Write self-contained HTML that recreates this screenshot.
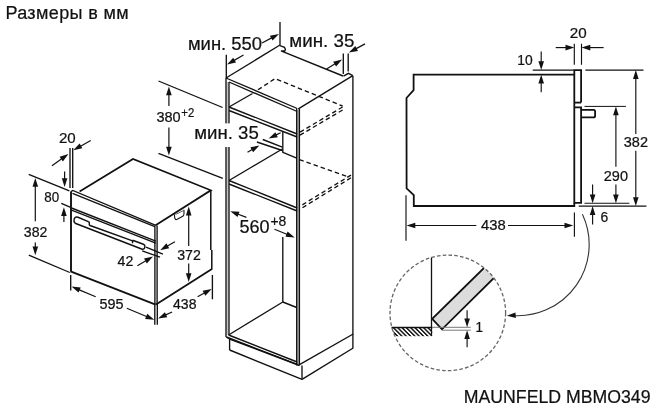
<!DOCTYPE html>
<html><head><meta charset="utf-8"><style>
html,body{margin:0;padding:0;background:#fff;}
svg{display:block;will-change:transform;}
text{stroke:#111;stroke-width:0.22px;font-family:"Liberation Sans",sans-serif;}
</style></head><body>
<svg width="667" height="413" viewBox="0 0 667 413">
<text x="5.4" y="18.9" font-size="18" letter-spacing="0.38" fill="#111">Размеры в мм</text>
<line x1="226" y1="78" x2="280" y2="45" stroke="#111" stroke-width="1.35" />
<polyline points="280,45.7 284.5,47.4 285.4,49.3 284.8,51 281,50.8 343,76" fill="none" stroke="#111" stroke-width="1.35" stroke-linejoin="miter" />
<polyline points="343.5,76.2 348.4,73.3 352.8,75.7" fill="none" stroke="#111" stroke-width="1.35" stroke-linejoin="miter" />
<line x1="352.9" y1="75.7" x2="352.9" y2="348" stroke="#111" stroke-width="1.35" />
<line x1="298.3" y1="108.8" x2="352.8" y2="75.7" stroke="#111" stroke-width="1.35" />
<line x1="226" y1="78" x2="297.2" y2="108.5" stroke="#111" stroke-width="1.35" />
<line x1="229" y1="82" x2="297.2" y2="111.5" stroke="#111" stroke-width="1.35" />
<line x1="227.5" y1="82" x2="227.5" y2="335" stroke="#c4c4c4" stroke-width="1.8" />
<line x1="298" y1="110" x2="298" y2="364" stroke="#a8a8a8" stroke-width="1.6" />
<line x1="226" y1="78" x2="226" y2="337" stroke="#111" stroke-width="1.35" />
<line x1="229" y1="82" x2="229" y2="335" stroke="#111" stroke-width="1.35" />
<line x1="296.7" y1="108.5" x2="296.7" y2="365.4" stroke="#111" stroke-width="1.35" />
<line x1="299.4" y1="108.5" x2="299.4" y2="365.4" stroke="#111" stroke-width="1.35" />
<line x1="229" y1="107" x2="297.2" y2="134" stroke="#111" stroke-width="1.35" />
<line x1="229" y1="110.5" x2="297.2" y2="137" stroke="#111" stroke-width="1.35" />
<line x1="229" y1="107" x2="252.5" y2="93.5" stroke="#111" stroke-width="1.35" />
<line x1="282.8" y1="131.5" x2="282.8" y2="152.2" stroke="#111" stroke-width="1.35" />
<line x1="282.3" y1="152.2" x2="296.7" y2="158.1" stroke="#111" stroke-width="1.35" />
<line x1="229" y1="180.5" x2="282.3" y2="149" stroke="#111" stroke-width="1.35" />
<line x1="229" y1="180.5" x2="297.2" y2="208" stroke="#111" stroke-width="1.35" />
<line x1="229" y1="184" x2="297.2" y2="211" stroke="#111" stroke-width="1.35" />
<line x1="282.8" y1="237" x2="282.8" y2="302" stroke="#111" stroke-width="1.35" />
<line x1="226.4" y1="337" x2="297.2" y2="364.4" stroke="#111" stroke-width="1.35" />
<line x1="228.6" y1="335" x2="297.2" y2="362" stroke="#111" stroke-width="1.35" />
<line x1="228.6" y1="335" x2="282.8" y2="302" stroke="#111" stroke-width="1.35" />
<line x1="282.8" y1="302" x2="296.7" y2="307.5" stroke="#111" stroke-width="1.35" />
<line x1="226.4" y1="337" x2="229.6" y2="339" stroke="#111" stroke-width="1.35" />
<line x1="229.6" y1="339" x2="229.6" y2="350" stroke="#111" stroke-width="1.35" />
<line x1="229.6" y1="339" x2="299.5" y2="365.5" stroke="#111" stroke-width="1.35" />
<line x1="229.6" y1="350" x2="302" y2="379.4" stroke="#111" stroke-width="1.35" />
<line x1="302" y1="365.4" x2="302" y2="379.4" stroke="#111" stroke-width="1.35" />
<line x1="299.5" y1="364.6" x2="353.2" y2="334" stroke="#111" stroke-width="1.35" />
<line x1="302" y1="379.4" x2="353.2" y2="348" stroke="#111" stroke-width="1.35" />
<polyline points="258,89.8 275,78.6 342.6,106" fill="none" stroke="#111" stroke-width="1.35" stroke-linejoin="miter" stroke-dasharray="4.5,3"/>
<line x1="342.6" y1="107" x2="299.4" y2="132.5" stroke="#111" stroke-width="1.35" stroke-dasharray="4.5,3"/>
<line x1="342.6" y1="110" x2="299.4" y2="135.5" stroke="#111" stroke-width="1.35" stroke-dasharray="4.5,3"/>
<line x1="299.4" y1="159.7" x2="347.8" y2="176.6" stroke="#111" stroke-width="1.35" stroke-dasharray="4.5,3"/>
<line x1="351" y1="175.1" x2="299.4" y2="206.6" stroke="#111" stroke-width="1.35" stroke-dasharray="4.5,3"/>
<line x1="351" y1="177.8" x2="299.4" y2="209.6" stroke="#111" stroke-width="1.35" stroke-dasharray="4.5,3"/>
<text transform="translate(187.91,49.50) scale(1,1.0)" font-size="18.47" fill="#111">мин. 550</text>
<line x1="226.3" y1="54.7" x2="226.3" y2="78" stroke="#111" stroke-width="1.35" />
<line x1="280" y1="22" x2="280" y2="45" stroke="#111" stroke-width="1.35" />
<line x1="243.5" y1="55" x2="233.76" y2="60.61" stroke="#111" stroke-width="1.2"/>
<polygon points="227,64.5 233.23,57.68 236.02,62.54" fill="#111"/>
<line x1="262" y1="43" x2="272.11" y2="37.65" stroke="#111" stroke-width="1.2"/>
<polygon points="279,34 272.53,40.59 269.91,35.64" fill="#111"/>
<text transform="translate(289.29,46.60) scale(1,1.0)" font-size="18.78" fill="#111">мин. 35</text>
<line x1="343.3" y1="53.6" x2="343.3" y2="74" stroke="#111" stroke-width="1.35" />
<line x1="348.2" y1="53.6" x2="348.2" y2="71.5" stroke="#111" stroke-width="1.35" />
<line x1="326.6" y1="69" x2="335.47" y2="63.51" stroke="#111" stroke-width="1.2"/>
<polygon points="342.1,59.4 336.09,66.41 333.14,61.65" fill="#111"/>
<line x1="365" y1="43.9" x2="355.76" y2="48.89" stroke="#111" stroke-width="1.2"/>
<polygon points="348.9,52.6 355.31,45.95 357.97,50.88" fill="#111"/>
<line x1="158.5" y1="81" x2="222.6" y2="107.5" stroke="#111" stroke-width="1.35" />
<line x1="158.5" y1="153.3" x2="222.8" y2="178.3" stroke="#111" stroke-width="1.35" />
<line x1="168.9" y1="105.9" x2="168.90" y2="94.30" stroke="#111" stroke-width="1.2"/>
<polygon points="168.9,86.5 171.70,95.30 166.10,95.30" fill="#111"/>
<line x1="168.9" y1="127.5" x2="168.90" y2="147.70" stroke="#111" stroke-width="1.2"/>
<polygon points="168.9,155.5 166.10,146.70 171.70,146.70" fill="#111"/>
<text transform="translate(156.42,121.60) scale(1,1.0226345083487935)" font-size="14.53" fill="#111">380</text>
<text transform="translate(181.33,116.60) scale(1,1.045036319612592)" font-size="11.35" fill="#111">+2</text>
<rect x="193" y="123.4" width="66" height="23.6" fill="#fff"/>
<text transform="translate(194.30,139.40) scale(1,1.0)" font-size="18.63" fill="#111">мин. 35</text>
<line x1="262.8" y1="139.5" x2="282.3" y2="147.1" stroke="#111" stroke-width="1.35" />
<line x1="256.9" y1="142" x2="282.3" y2="150.5" stroke="#111" stroke-width="1.35" />
<line x1="280.6" y1="132.7" x2="275.69" y2="135.14" stroke="#111" stroke-width="1.2"/>
<polygon points="268.7,138.6 275.34,132.18 277.83,137.20" fill="#111"/>
<line x1="247.5" y1="152.2" x2="252.63" y2="149.27" stroke="#111" stroke-width="1.2"/>
<polygon points="259.4,145.4 253.15,152.20 250.37,147.33" fill="#111"/>
<text transform="translate(239.48,233.10) scale(1,1.0)" font-size="18.05" fill="#111">560</text>
<text transform="translate(270.40,226.40) scale(1,1.0479452054794565)" font-size="13.90" fill="#111">+8</text>
<line x1="246.4" y1="217.4" x2="237.58" y2="214.00" stroke="#111" stroke-width="1.2"/>
<polygon points="230.3,211.2 239.52,211.75 237.51,216.98" fill="#111"/>
<line x1="274.5" y1="229.2" x2="287.47" y2="234.47" stroke="#111" stroke-width="1.2"/>
<polygon points="294.7,237.4 285.49,236.68 287.60,231.50" fill="#111"/>
<polyline points="79.6,191.4 133,158.9 210.8,190.3 155.6,225.3" fill="none" stroke="#111" stroke-width="1.75" stroke-linejoin="miter" />
<polyline points="71,191.6 72.8,190.4 155.8,225.4" fill="none" stroke="#111" stroke-width="1.35" stroke-linejoin="miter" />
<line x1="71" y1="191.4" x2="71" y2="271.6" stroke="#111" stroke-width="1.9" />
<line x1="70.5" y1="271.4" x2="155.6" y2="304.6" stroke="#111" stroke-width="1.8" />
<line x1="154.9" y1="225.6" x2="154.9" y2="304" stroke="#111" stroke-width="1.35" />
<line x1="157.1" y1="225.4" x2="157.1" y2="303.9" stroke="#111" stroke-width="1.35" />
<line x1="72.5" y1="193.4" x2="154.8" y2="226.6" stroke="#111" stroke-width="1.35" />
<line x1="71.5" y1="208" x2="155.8" y2="241.2" stroke="#111" stroke-width="1.35" />
<line x1="71.5" y1="210.2" x2="155.8" y2="243.2" stroke="#111" stroke-width="1.35" />
<path d="M75.1,223.3 L141.6,249 Q144.4,249.8 144.9,246.8 Q145.2,244.9 143.4,244.2 L132.6,240.2 M89.3,225.3 L132.6,240.9 M132.6,240.2 L132.5,243.2 M89.3,225.3 L89.3,222.6 Q89.2,221.9 88.3,221.6 L78,217.3 Q75.4,216.5 74.2,218.9 Q73.4,221.6 75.1,223.3" fill="none" stroke="#111" stroke-width="1.45"/>
<line x1="210.8" y1="190.3" x2="210.8" y2="250" stroke="#111" stroke-width="1.5" />
<line x1="211.8" y1="250" x2="211.8" y2="269.5" stroke="#111" stroke-width="1.5" />
<line x1="156" y1="304.4" x2="211.9" y2="269" stroke="#111" stroke-width="1.8" />
<path d="M174.3,214.2 L174.8,218.2 Q175.2,220.2 177.2,219.3 L182.3,216.6 Q184.1,215.6 184,213.6 L183.9,209.8" fill="none" stroke="#111" stroke-width="1.1"/>
<line x1="175.5" y1="214.5" x2="183.5" y2="210.5" stroke="#555" stroke-width="0.9" />
<text transform="translate(58.95,142.80) scale(1,1.0124304267161433)" font-size="15.10" fill="#111">20</text>
<line x1="70" y1="148" x2="70" y2="188" stroke="#111" stroke-width="1.35" />
<line x1="72.7" y1="148" x2="72.7" y2="188" stroke="#111" stroke-width="1.35" />
<line x1="52" y1="165.7" x2="62.05" y2="158.53" stroke="#111" stroke-width="1.2"/>
<polygon points="68.4,154 62.86,161.39 59.61,156.83" fill="#111"/>
<line x1="90.7" y1="140.5" x2="80.11" y2="146.40" stroke="#111" stroke-width="1.2"/>
<polygon points="73.3,150.2 79.62,143.47 82.35,148.36" fill="#111"/>
<line x1="28.7" y1="174.4" x2="69.4" y2="190.9" stroke="#111" stroke-width="1.35" />
<line x1="61.3" y1="203.3" x2="70.6" y2="207.3" stroke="#111" stroke-width="1.35" />
<line x1="64.6" y1="171.5" x2="64.60" y2="179.20" stroke="#111" stroke-width="1.2"/>
<polygon points="64.6,187 61.80,178.20 67.40,178.20" fill="#111"/>
<line x1="63.9" y1="222" x2="63.90" y2="215.10" stroke="#111" stroke-width="1.2"/>
<polygon points="63.9,207.3 66.70,216.10 61.10,216.10" fill="#111"/>
<text transform="translate(44.26,202.00) scale(1,1.0342650103519655)" font-size="13.40" fill="#111">80</text>
<line x1="35.3" y1="221.3" x2="35.30" y2="185.80" stroke="#111" stroke-width="1.2"/>
<polygon points="35.3,178 38.10,186.80 32.50,186.80" fill="#111"/>
<line x1="35.3" y1="242.4" x2="35.30" y2="247.40" stroke="#111" stroke-width="1.2"/>
<polygon points="35.3,255.2 32.50,246.40 38.10,246.40" fill="#111"/>
<text transform="translate(23.84,236.90) scale(1,0.9818065342729037)" font-size="14.11" fill="#111">382</text>
<line x1="28.8" y1="255.2" x2="69.8" y2="272.5" stroke="#111" stroke-width="1.35" />
<text transform="translate(117.62,265.70) scale(1,0.9803692905733721)" font-size="14.13" fill="#111">42</text>
<line x1="146" y1="247.2" x2="162.9" y2="254.2" stroke="#111" stroke-width="1.35" />
<line x1="142.2" y1="250.8" x2="160" y2="257.2" stroke="#111" stroke-width="1.35" />
<line x1="174.9" y1="241.7" x2="166.95" y2="246.30" stroke="#111" stroke-width="1.2"/>
<polygon points="160.2,250.2 166.42,243.37 169.22,248.22" fill="#111"/>
<line x1="137.4" y1="265.8" x2="146.30" y2="260.49" stroke="#111" stroke-width="1.2"/>
<polygon points="153,256.5 146.88,263.41 144.01,258.60" fill="#111"/>
<line x1="188.7" y1="246" x2="188.70" y2="214.40" stroke="#111" stroke-width="1.2"/>
<polygon points="188.7,206.6 191.50,215.40 185.90,215.40" fill="#111"/>
<line x1="188.7" y1="263.6" x2="188.70" y2="274.20" stroke="#111" stroke-width="1.2"/>
<polygon points="188.7,282 185.90,273.20 191.50,273.20" fill="#111"/>
<text transform="translate(177.13,259.90) scale(1,0.9874999999999982)" font-size="14.18" fill="#111">372</text>
<line x1="70.7" y1="275" x2="70.7" y2="290.4" stroke="#111" stroke-width="1.35" />
<line x1="95.7" y1="296.8" x2="78.69" y2="289.63" stroke="#111" stroke-width="1.2"/>
<polygon points="71.5,286.6 80.70,287.44 78.52,292.60" fill="#111"/>
<text transform="translate(99.52,308.60) scale(1,1.0117280099812893)" font-size="14.40" fill="#111">595</text>
<line x1="126.8" y1="308.2" x2="147.10" y2="316.69" stroke="#111" stroke-width="1.2"/>
<polygon points="154.3,319.7 145.10,318.89 147.26,313.72" fill="#111"/>
<line x1="154.8" y1="304" x2="154.8" y2="324.8" stroke="#111" stroke-width="1.35" />
<line x1="157.3" y1="304" x2="157.3" y2="324.8" stroke="#111" stroke-width="1.35" />
<line x1="172.1" y1="312" x2="165.19" y2="315.16" stroke="#111" stroke-width="1.2"/>
<polygon points="158.1,318.4 164.94,312.19 167.27,317.29" fill="#111"/>
<text transform="translate(173.02,308.60) scale(1,1.0361904761904808)" font-size="14.06" fill="#111">438</text>
<line x1="197.6" y1="296.8" x2="204.85" y2="292.84" stroke="#111" stroke-width="1.2"/>
<polygon points="211.7,289.1 205.32,295.78 202.63,290.86" fill="#111"/>
<line x1="212.4" y1="275" x2="212.4" y2="299.3" stroke="#111" stroke-width="1.35" />
<polyline points="574,74.7 413.6,74.7 413.6,90.2 406.5,98 406.6,188.4 413.8,195.2 413.8,206 574.3,206 574.3,202.9" fill="none" stroke="#111" stroke-width="1.8" stroke-linejoin="miter" />
<polyline points="581.1,102.6 581.1,70.1 574.3,70.1 574.3,202.9 581.1,202.9 581.1,107.3 574.3,107.3" fill="none" stroke="#111" stroke-width="1.8" stroke-linejoin="miter" />
<line x1="574.3" y1="102.6" x2="581.1" y2="102.6" stroke="#111" stroke-width="1.8" />
<path d="M581.1,109.8 H593.6 Q595.1,109.8 595.1,111.5 V115.7 Q595.1,117.4 593.6,117.4 H581.1" fill="none" stroke="#111" stroke-width="1.8"/>
<text transform="translate(517.29,65.00) scale(1,1.0942648592283597)" font-size="13.84" fill="#111">10</text>
<line x1="532.7" y1="70.1" x2="573.8" y2="70.1" stroke="#111" stroke-width="1.15" />
<line x1="541.2" y1="51.5" x2="541.20" y2="62.20" stroke="#111" stroke-width="1.15"/>
<polygon points="541.2,70 538.40,61.20 544.00,61.20" fill="#111"/>
<line x1="541.2" y1="92.2" x2="541.20" y2="82.50" stroke="#111" stroke-width="1.15"/>
<polygon points="541.2,74.7 544.00,83.50 538.40,83.50" fill="#111"/>
<text transform="translate(569.74,37.90) scale(1,0.9588940092165898)" font-size="15.20" fill="#111">20</text>
<line x1="574.3" y1="43.7" x2="574.3" y2="64.8" stroke="#111" stroke-width="1.15" />
<line x1="581.5" y1="43.7" x2="581.5" y2="64.8" stroke="#111" stroke-width="1.15" />
<line x1="555.7" y1="47.6" x2="566.50" y2="47.60" stroke="#111" stroke-width="1.15"/>
<polygon points="574.3,47.6 565.50,50.40 565.50,44.80" fill="#111"/>
<line x1="603.6" y1="47.6" x2="589.30" y2="47.60" stroke="#111" stroke-width="1.15"/>
<polygon points="581.5,47.6 590.30,44.80 590.30,50.40" fill="#111"/>
<line x1="585.4" y1="70.1" x2="643.5" y2="70.1" stroke="#111" stroke-width="1.15" />
<line x1="635.8" y1="133.9" x2="635.80" y2="77.90" stroke="#111" stroke-width="1.15"/>
<polygon points="635.8,70.1 638.60,78.90 633.00,78.90" fill="#111"/>
<line x1="635.8" y1="150.8" x2="635.80" y2="198.30" stroke="#111" stroke-width="1.15"/>
<polygon points="635.8,206.1 633.00,197.30 638.60,197.30" fill="#111"/>
<text transform="translate(623.82,147.10) scale(1,1.0250779787897708)" font-size="14.49" fill="#111">382</text>
<line x1="578.7" y1="206.1" x2="646.4" y2="206.1" stroke="#111" stroke-width="1.15" />
<line x1="584.5" y1="106.4" x2="625.9" y2="106.4" stroke="#111" stroke-width="1.0" />
<line x1="615.9" y1="166.8" x2="615.90" y2="114.20" stroke="#111" stroke-width="1.15"/>
<polygon points="615.9,106.4 618.70,115.20 613.10,115.20" fill="#111"/>
<line x1="615.9" y1="184.6" x2="615.90" y2="195.40" stroke="#111" stroke-width="1.15"/>
<polygon points="615.9,203.2 613.10,194.40 618.70,194.40" fill="#111"/>
<text transform="translate(603.78,181.20) scale(1,1.0053649407361198)" font-size="14.49" fill="#111">290</text>
<line x1="584.5" y1="203.2" x2="629.4" y2="203.2" stroke="#111" stroke-width="1.15" />
<line x1="592.6" y1="184.5" x2="592.60" y2="195.40" stroke="#111" stroke-width="1.15"/>
<polygon points="592.6,203.2 589.80,194.40 595.40,194.40" fill="#111"/>
<line x1="592.6" y1="224.4" x2="592.60" y2="213.90" stroke="#111" stroke-width="1.15"/>
<polygon points="592.6,206.1 595.40,214.90 589.80,214.90" fill="#111"/>
<text transform="translate(600.4,222.1)" font-size="13.9" fill="#111">6</text>
<line x1="406" y1="195.2" x2="406" y2="240.7" stroke="#111" stroke-width="1.15" />
<line x1="574.4" y1="212.6" x2="574.4" y2="236.8" stroke="#111" stroke-width="1.15" />
<line x1="476.3" y1="225.5" x2="414.30" y2="225.50" stroke="#111" stroke-width="1.15"/>
<polygon points="406.5,225.5 415.30,222.70 415.30,228.30" fill="#111"/>
<line x1="508" y1="225.5" x2="565.50" y2="225.50" stroke="#111" stroke-width="1.15"/>
<polygon points="573.3,225.5 564.50,228.30 564.50,222.70" fill="#111"/>
<text transform="translate(481.00,230.40) scale(1,1.0030138637733585)" font-size="14.81" fill="#111">438</text>
<defs><clipPath id="cc"><circle cx="447.8" cy="312.9" r="57.6"/></clipPath><pattern id="hp" width="3.05" height="3.05" patternUnits="userSpaceOnUse" patternTransform="rotate(-45)"><rect x="0" y="0" width="1.45" height="3.05" fill="#111"/></pattern></defs>
<g clip-path="url(#cc)">
<rect x="391" y="327.4" width="41.2" height="8.8" fill="url(#hp)"/>
<polygon points="432.2,318.8 442,329.3 500,272 490,262" fill="#dcdcdc" stroke="#111" stroke-width="1.8" stroke-linejoin="miter" />
</g>
<circle cx="447.8" cy="312.9" r="57.8" fill="none" stroke="#666" stroke-width="1.3" stroke-dasharray="3.6,2.2"/>
<line x1="431.5" y1="257.6" x2="431.5" y2="327.4" stroke="#111" stroke-width="1.3" />
<line x1="391.5" y1="327.4" x2="431.5" y2="327.4" stroke="#111" stroke-width="1.5" />
<line x1="432" y1="327.3" x2="470.7" y2="327.3" stroke="#777" stroke-width="1" />
<line x1="442" y1="330.2" x2="470.7" y2="330.2" stroke="#777" stroke-width="1" />
<line x1="467.1" y1="310.2" x2="467.10" y2="319.50" stroke="#111" stroke-width="1.15"/>
<polygon points="467.1,327.3 464.30,318.50 469.90,318.50" fill="#111"/>
<line x1="467.1" y1="347.3" x2="467.10" y2="338.00" stroke="#111" stroke-width="1.15"/>
<polygon points="467.1,330.2 469.90,339.00 464.30,339.00" fill="#111"/>
<line x1="431.5" y1="327" x2="431.5" y2="336" stroke="#111" stroke-width="1.2" />
<text transform="translate(475.5,332.2) scale(1,1.1)" font-size="13.5" fill="#111">1</text>
<path d="M582.4,214.2 A71.2,71.2 0 0 1 512.6,315.5" fill="none" stroke="#333" stroke-width="1.1"/>
<line x1="514" y1="315.3" x2="514.68" y2="315.25" stroke="#111" stroke-width="1.1"/>
<polygon points="506.9,315.8 515.48,312.39 515.87,317.97" fill="#111"/>
<text transform="translate(463.78,402.50) scale(1,1.0)" font-size="17.71" fill="#111">MAUNFELD MBMO349</text>
</svg>
</body></html>
